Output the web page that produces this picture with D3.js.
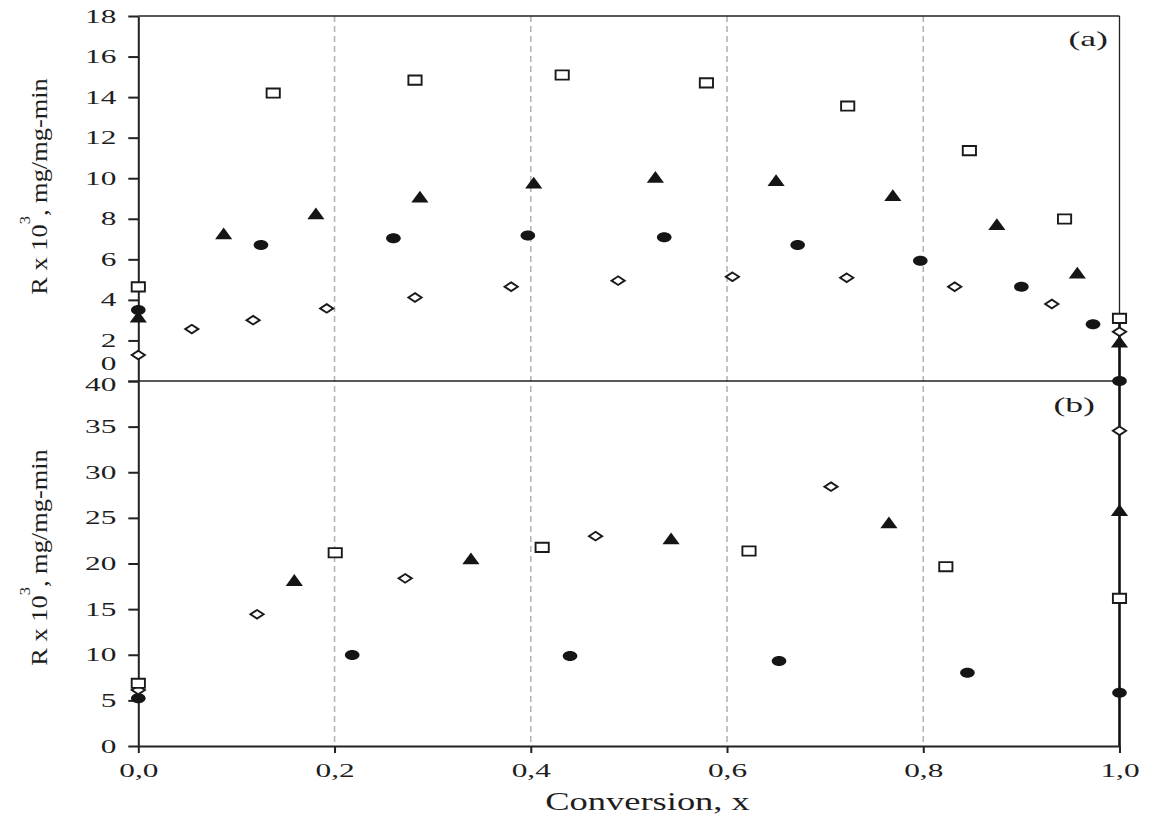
<!DOCTYPE html>
<html>
<head>
<meta charset="utf-8">
<script src="https://cdn.jsdelivr.net/npm/d3@7/dist/d3.min.js"></script>
<style>
  html, body { margin: 0; padding: 0; background: #fff; }
  svg { display: block; }
  text { font-family: "Liberation Serif", "Times New Roman", serif; fill: #1e1e1e; }
</style>
</head>
<body>
<svg id="chart" width="1158" height="821"></svg>
<script>
// ---- data: reaction rate R x 10^3 (mg/mg-min) against conversion x ----
// panel (a)
const aSquare   = [[0,4.64],[0.1375,14.2],[0.282,14.84],[0.432,15.09],[0.579,14.7],[0.723,13.56],[0.847,11.36],[0.944,7.99],[1.0,3.09]];
const aTriangle = [[0,3.17],[0.087,7.28],[0.181,8.27],[0.287,9.09],[0.403,9.78],[0.527,10.07],[0.65,9.91],[0.769,9.17],[0.875,7.74],[0.957,5.34],[1.0,1.94]];
const aCircle   = [[0,3.5],[0.125,6.71],[0.26,7.04],[0.397,7.17],[0.536,7.09],[0.672,6.71],[0.797,5.93],[0.9,4.65],[0.973,2.8],[1.0,0.0]];
const aDiamond  = [[0,1.28],[0.0545,2.56],[0.117,3.0],[0.192,3.58],[0.282,4.12],[0.38,4.65],[0.489,4.95],[0.6055,5.14],[0.722,5.09],[0.832,4.65],[0.931,3.8],[1.0,2.43]];
// panel (b)
const bSquare   = [[0,6.87],[0.2007,21.18],[0.4116,21.77],[0.6224,21.37],[0.823,19.65],[1.0,16.18]];
const bTriangle = [[0.159,18.19],[0.339,20.57],[0.543,22.76],[0.765,24.51],[1.0,25.86]];
const bCircle   = [[0,5.22],[0.218,9.97],[0.44,9.86],[0.653,9.32],[0.845,8.04],[1.0,5.84]];
const bDiamond  = [[0,6.14],[0.121,14.43],[0.272,18.37],[0.466,23.0],[0.706,28.42],[1.0,34.55]];

// axis ticks
const xTicks  = [0, 0.2, 0.4, 0.6, 0.8, 1.0];
const aYTicks = [0, 2, 4, 6, 8, 10, 12, 14, 16, 18];
const bYTicks = [0, 5, 10, 15, 20, 25, 30, 35, 40];
const gridX   = [0.2, 0.4, 0.6, 0.8];
const panelLabels = ["(a)", "(b)"];
const xTitle = "Conversion, x";

// ---- layout ----
const svg = d3.select("#chart");
const L = 138.3, R = 1119.5;
const aTop = 16, mid = 381, bBot = 746;

const x  = d3.scaleLinear().domain([0, 1]).range([L, R]);
const yA = d3.scaleLinear().domain([0, 18]).range([mid, aTop]);
const yB = d3.scaleLinear().domain([0, 40]).range([bBot, mid]);

const tickScale = 1.65;      // wide tick-label lettering
const commaFmt = d => d3.format(".1f")(d).replace(".", ",");

// ---- custom marker shapes (wide rectangles, diamonds, triangles, ellipses) ----
const rectSym = { draw(p) { const w = 6.6, h = 4.6; p.moveTo(-w, -h); p.lineTo(w, -h); p.lineTo(w, h); p.lineTo(-w, h); p.closePath(); } };
const diamSym = { draw(p) { const w = 6.6, h = 4.3; p.moveTo(0, -h); p.lineTo(w, 0); p.lineTo(0, h); p.lineTo(-w, 0); p.closePath(); } };
const triSym  = { draw(p) { const w = 8.6, h = 5.9; p.moveTo(0, -h); p.lineTo(w, h); p.lineTo(-w, h); p.closePath(); } };
const ellSym  = { draw(p) {
  const rx = 7.3, ry = 5.0, k = 0.5523;
  p.moveTo(rx, 0);
  p.bezierCurveTo(rx, ry * k, rx * k, ry, 0, ry);
  p.bezierCurveTo(-rx * k, ry, -rx, ry * k, -rx, 0);
  p.bezierCurveTo(-rx, -ry * k, -rx * k, -ry, 0, -ry);
  p.bezierCurveTo(rx * k, -ry, rx, -ry * k, rx, 0);
  p.closePath();
} };

// ---- dashed vertical guides through both panels ----
svg.append("g").selectAll("line").data(gridX).join("line")
  .attr("x1", d => x(d)).attr("x2", d => x(d))
  .attr("y1", aTop).attr("y2", bBot)
  .attr("stroke", "#b4b4b4").attr("stroke-width", 1.6)
  .attr("stroke-dasharray", "6,4");

// ---- frame lines ----
const frame = svg.append("g").attr("stroke", "#222").attr("fill", "none");
frame.append("line").attr("x1", L).attr("x2", R).attr("y1", aTop).attr("y2", aTop).attr("stroke-width", 1.6);
frame.append("line").attr("x1", R).attr("x2", R).attr("y1", aTop).attr("y2", mid).attr("stroke-width", 1.3);
frame.append("line").attr("x1", L).attr("x2", R).attr("y1", mid).attr("y2", mid).attr("stroke-width", 1.6);
frame.append("line").attr("x1", R).attr("x2", R).attr("y1", mid).attr("y2", bBot).attr("stroke-width", 2.6).attr("stroke", "#111");
// heavy segment at x = 1 joining the end-point values of panel (a)
frame.append("line").attr("x1", x(1)).attr("x2", x(1))
  .attr("y1", yA(0)).attr("y2", yA(aSquare[aSquare.length - 1][1]))
  .attr("stroke-width", 2.6).attr("stroke", "#111");

// ---- axes ----
function styleAxis(g) {
  g.select(".domain").attr("stroke", "#222").attr("stroke-width", 2);
  g.selectAll(".tick line").attr("stroke", "#222").attr("stroke-width", 2);
  g.selectAll(".tick text")
    .attr("fill", "#1e1e1e")
    .style("font-size", "19px")
    .style("font-family", '"Liberation Serif", "Times New Roman", serif');
}

const axA = svg.append("g").attr("transform", `translate(${L},0)`)
  .call(d3.axisLeft(yA).tickValues(aYTicks).tickSize(10).tickSizeOuter(0).tickPadding(12).tickFormat(d3.format("d")));
styleAxis(axA);
axA.selectAll(".tick text")
  .attr("x", -22 / tickScale)
  .attr("transform", `scale(${tickScale},1)`)
  .attr("dy", d => d === 0 ? "-0.58em" : "0.32em");   // lowest label lifted clear of the panel (b) top label

const axB = svg.append("g").attr("transform", `translate(${L},0)`)
  .call(d3.axisLeft(yB).tickValues(bYTicks).tickSize(10).tickSizeOuter(0).tickPadding(12).tickFormat(d3.format("d")));
styleAxis(axB);
axB.selectAll(".tick text")
  .attr("x", -22 / tickScale)
  .attr("transform", `scale(${tickScale},1)`)
  .attr("dy", d => d === 40 ? "0.5em" : "0.32em");

const axX = svg.append("g").attr("transform", `translate(0,${bBot})`)
  .call(d3.axisBottom(x).tickValues(xTicks).tickSize(7).tickSizeOuter(0).tickPadding(11).tickFormat(commaFmt));
styleAxis(axX);
axX.selectAll(".tick text").attr("transform", `scale(${tickScale},1)`);

// ---- markers ----
function drawSeries(data, yScale, type, filled) {
  svg.append("g").selectAll("path").data(data).join("path")
    .attr("d", d3.symbol().type(type))
    .attr("transform", d => `translate(${x(d[0])},${yScale(d[1])})`)
    .attr("fill", filled ? "#151515" : "#fff")
    .attr("stroke", filled ? "none" : "#1a1a1a")
    .attr("stroke-width", filled ? 0 : 1.9)
    .attr("stroke-linejoin", "miter");
}
drawSeries(aCircle,   yA, ellSym,  true);
drawSeries(aTriangle, yA, triSym,  true);
drawSeries(aDiamond,  yA, diamSym, false);
drawSeries(aSquare,   yA, rectSym, false);

drawSeries(bCircle,   yB, ellSym,  true);
drawSeries(bTriangle, yB, triSym,  true);
drawSeries(bDiamond,  yB, diamSym, false);
drawSeries(bSquare,   yB, rectSym, false);

// ---- panel tags ----
svg.append("text").text(panelLabels[0])
  .attr("transform", "translate(1108,46) scale(1.7,1)")
  .attr("text-anchor", "end").style("font-size", "21px");
svg.append("text").text(panelLabels[1])
  .attr("transform", "translate(1095,412) scale(1.7,1)")
  .attr("text-anchor", "end").style("font-size", "21px");

// ---- axis titles ----
function yTitle(cy) {
  const t = svg.append("text")
    .attr("transform", `translate(47,${cy}) rotate(-90) scale(1.1,1)`)
    .attr("text-anchor", "middle")
    .style("font-size", "24px");
  t.append("tspan").text("R x 10");
  t.append("tspan").text("3").attr("dy", -17).style("font-size", "15px");
  t.append("tspan").text(", mg/mg-min").attr("dy", 17);
}
yTitle(186.5);
yTitle(557.5);

svg.append("text").text(xTitle)
  .attr("transform", "translate(647.5,810) scale(1.46,1)")
  .attr("text-anchor", "middle")
  .style("font-size", "25px");
</script>
</body>
</html>
